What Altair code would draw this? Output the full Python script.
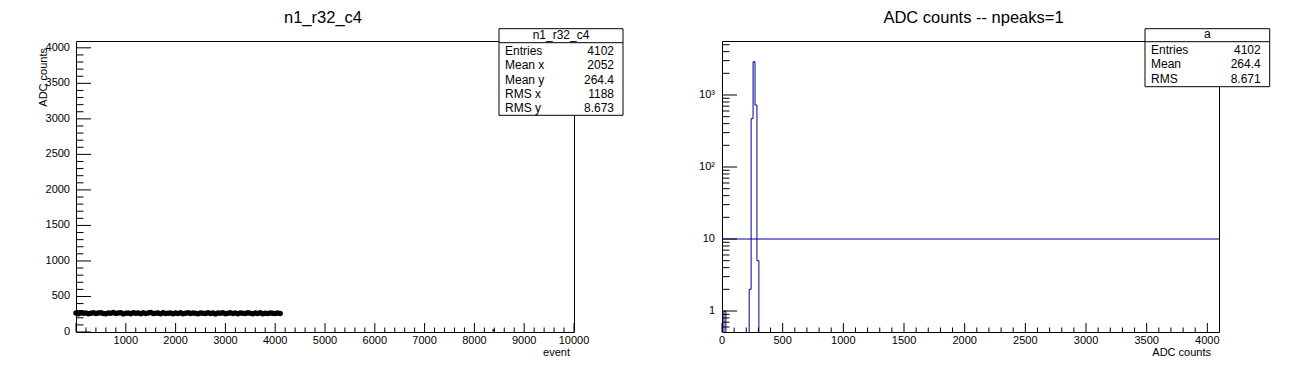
import altair as alt
import pandas as pd

FONT = "Liberation Sans"
BLUE = "#000099"

# ---------------- left panel: ADC counts vs event ----------------
event_ids = [0, 50, 100, 150, 200, 250, 300, 350, 400, 450,
             500, 550, 600, 650, 700, 750, 800, 850, 900, 950,
             1000, 1050, 1100, 1150, 1200, 1250, 1300, 1350, 1400, 1450,
             1500, 1550, 1600, 1650, 1700, 1750, 1800, 1850, 1900, 1950,
             2000, 2050, 2100, 2150, 2200, 2250, 2300, 2350, 2400, 2450,
             2500, 2550, 2600, 2650, 2700, 2750, 2800, 2850, 2900, 2950,
             3000, 3050, 3100, 3150, 3200, 3250, 3300, 3350, 3400, 3450,
             3500, 3550, 3600, 3650, 3700, 3750, 3800, 3850, 3900, 3950,
             4000, 4050, 4100]
adc_values = [266, 258, 271, 264, 269, 256, 265, 272, 259, 266,
              270, 261, 257, 268, 264, 273, 260, 266, 271, 255,
              265, 269, 258, 272, 263, 267, 256, 270, 262, 266,
              273, 259, 264, 268, 257, 271, 262, 265, 269, 258,
              266, 261, 270, 256, 264, 272, 260, 267, 263, 257,
              269, 264, 259, 271, 262, 266, 255, 268, 263, 270,
              258, 265, 272, 261, 266, 257, 269, 263, 260, 271,
              264, 258, 267, 262, 270, 256, 265, 261, 268, 263,
              259, 266, 262]
outlier_event = [8381]
outlier_adc = [22]

left_x_labels = [1000, 2000, 3000, 4000, 5000, 6000, 7000, 8000, 9000, 10000]
left_y_labels = [0, 500, 1000, 1500, 2000, 2500, 3000, 3500, 4000]
left_x_major = [0] + left_x_labels
left_x_minor = [v for v in range(200, 10000, 200) if v % 1000]
left_y_major = left_y_labels
left_y_minor = [v for v in range(100, 4000, 100) if v % 500]

left_title = "n1_r32_c4"
left_x_title = "event"
left_y_title = "ADC counts"
left_stat_names = ["Entries", "Mean x", "Mean y", "RMS x", "RMS y"]
left_stat_values = ["4102", "2052", "264.4", "1188", "8.673"]

# ---------------- right panel: histogram of ADC counts ----------------
BIN_WIDTH = 16
bin_low = [16, 224, 240, 256, 272, 288]
bin_counts = [1, 2, 470, 2900, 724, 5]
threshold = [10]

right_x_labels = [0, 500, 1000, 1500, 2000, 2500, 3000, 3500, 4000]
right_x_minor = [v for v in range(100, 4096, 100) if v % 500]
right_y_labels = [1, 10, 100, 1000]
right_y_label_text = ["1", "10", "10\u00b2", "10\u00b3"]
right_y_minor = [0.6, 0.7, 0.8, 0.9, 2, 3, 4, 5, 6, 7, 8, 9,
                 20, 30, 40, 50, 60, 70, 80, 90,
                 200, 300, 400, 500, 600, 700, 800, 900,
                 2000, 3000, 4000, 5000]

right_title = "ADC counts -- npeaks=1"
right_x_title = "ADC counts"
right_box_title = "a"
right_stat_names = ["Entries", "Mean", "RMS"]
right_stat_values = ["4102", "264.4", "8.671"]

# ---------------- geometry ----------------
W1, W2, H = 498, 497, 291
Y_MIN, Y_MAX = 0.511, 5623

xs_l = alt.Scale(domain=[0, 10000], nice=False, zero=False)
ys_l = alt.Scale(domain=[0, 4096], nice=False, zero=False)
xs_r = alt.Scale(domain=[0, 4096], nice=False, zero=False)
ys_r = alt.Scale(type="log", domain=[Y_MIN, Y_MAX], nice=False, clamp=True)

TXT = dict(font=FONT, color="black")


def ticks_layers(xscale, yscale, xmaj, xmin, ymaj, ymin, height):
    out = []
    for vals, ln in ((xmaj, 9), (xmin, 4.5)):
        out.append(alt.Chart(pd.DataFrame({"v": vals})).mark_rule(color="black", strokeWidth=1).encode(
            x=alt.X("v:Q", scale=xscale, axis=None), y=alt.value(height), y2=alt.value(height - ln)))
    for vals, ln in ((ymaj, 15), (ymin, 7.5)):
        out.append(alt.Chart(pd.DataFrame({"v": vals})).mark_rule(color="black", strokeWidth=1).encode(
            y=alt.Y("v:Q", scale=yscale, axis=None), x=alt.value(0), x2=alt.value(ln)))
    return out


def label_layers(xscale, yscale, xvals, xtext, yvals, ytext, height, ypad):
    xl = alt.Chart(pd.DataFrame({"v": xvals, "t": xtext})).mark_text(
        fontSize=11, align="center", baseline="top", **TXT).encode(
        x=alt.X("v:Q", scale=xscale, axis=None), y=alt.value(height + 3), text="t:N")
    yl = alt.Chart(pd.DataFrame({"v": yvals, "t": ytext})).mark_text(
        fontSize=11, align="right", baseline="middle", **TXT).encode(
        y=alt.Y("v:Q", scale=yscale, axis=None), x=alt.value(-ypad), text="t:N")
    return [xl, yl]


def text_layer(s, x, y, size, align="center", angle=0):
    params = dict(fontSize=size, align=align, baseline="alphabetic", **TXT)
    if angle:
        params["angle"] = angle
    return alt.Chart(pd.DataFrame({"t": [s]})).mark_text(**params).encode(
        x=alt.value(x), y=alt.value(y), text="t:N")


def stats_layers(header, names, values, bx0, bx1, by0, by1, hline):
    df = pd.DataFrame({"header": [header], "names": ["\n".join(names)], "values": ["\n".join(values)]})
    base = alt.Chart(df)
    box = base.mark_rect(fill="white", stroke="black", strokeWidth=1).encode(
        x=alt.value(bx0), x2=alt.value(bx1), y=alt.value(by0), y2=alt.value(by1))
    sep = base.mark_rule(color="black", strokeWidth=1).encode(
        x=alt.value(bx0), x2=alt.value(bx1), y=alt.value(hline))
    head = base.mark_text(fontSize=12, align="center", baseline="alphabetic", **TXT).encode(
        x=alt.value((bx0 + bx1) / 2), y=alt.value(hline - 4), text="header:N")
    lab = base.mark_text(fontSize=12, align="left", baseline="alphabetic", lineBreak="\n",
                         lineHeight=14.3, **TXT).encode(
        x=alt.value(bx0 + 6), y=alt.value(hline + 12.5), text="names:N")
    val = base.mark_text(fontSize=12, align="right", baseline="alphabetic", lineBreak="\n",
                         lineHeight=14.3, **TXT).encode(
        x=alt.value(bx1 - 9), y=alt.value(hline + 12.5), text="values:N")
    return [box, sep, head, lab, val]


# ---------------- left chart ----------------
scatter = alt.Chart(pd.DataFrame({"event": event_ids, "adc": adc_values})).mark_circle(
    size=30, color="black", opacity=1).encode(
    x=alt.X("event:Q", scale=xs_l, axis=None),
    y=alt.Y("adc:Q", scale=ys_l, axis=None),
)
outlier = alt.Chart(pd.DataFrame({"event": outlier_event, "adc": outlier_adc})).mark_circle(
    size=5, color="black", opacity=1).encode(
    x=alt.X("event:Q", scale=xs_l, axis=None), y=alt.Y("adc:Q", scale=ys_l, axis=None))

left = alt.layer(
    scatter, outlier,
    *ticks_layers(xs_l, ys_l, left_x_major, left_x_minor, left_y_major, left_y_minor, H),
    *label_layers(xs_l, ys_l, left_x_labels, [str(v) for v in left_x_labels],
                  left_y_labels, [str(v) for v in left_y_labels], H, 6),
    text_layer(left_x_title, W1 - 4, H + 24, 11, align="right"),
    text_layer(left_y_title, -29, 7, 11, align="right", angle=270),
    text_layer(left_title, W1 / 2 - 2, -18, 16.5),
    *stats_layers(left_title, left_stat_names, left_stat_values, 423, 547, -12.3, 74.3, 1.7),
).properties(width=W1, height=H)

# ---------------- right chart ----------------
rows = []
seg = 0
i = 0
while i < len(bin_low):
    j = i
    while j + 1 < len(bin_low) and bin_low[j + 1] == bin_low[j] + BIN_WIDTH:
        j += 1
    pts = [(bin_low[i], Y_MIN)] + [(bin_low[k], bin_counts[k]) for k in range(i, j + 1)] \
        + [(bin_low[j] + BIN_WIDTH, Y_MIN)]
    for o, (xv, yv) in enumerate(pts):
        rows.append({"adc": xv, "count": yv, "seg": seg, "o": o})
    seg += 1
    i = j + 1
hist_df = pd.DataFrame(rows)

hist = alt.Chart(hist_df).mark_line(interpolate="step-after", color=BLUE, strokeWidth=1).encode(
    x=alt.X("adc:Q", scale=xs_r, axis=None),
    y=alt.Y("count:Q", scale=ys_r, axis=None),
    detail="seg:N",
    order="o:Q",
)
thr = alt.Chart(pd.DataFrame({"count": threshold})).mark_rule(color=BLUE, strokeWidth=1).encode(
    y=alt.Y("count:Q", scale=ys_r, axis=None))

right = alt.layer(
    hist, thr,
    *ticks_layers(xs_r, ys_r, right_x_labels, right_x_minor, right_y_labels, right_y_minor, H),
    *label_layers(xs_r, ys_r, right_x_labels, [str(v) for v in right_x_labels],
                  right_y_labels, right_y_label_text, H, 7),
    text_layer(right_x_title, W2 - 8, H + 24, 11, align="right"),
    text_layer(right_title, W2 / 2 + 3, -18, 16.5),
    *stats_layers(right_box_title, right_stat_names, right_stat_values, 423, 547.7, -12.3, 45.7, 0.7),
).properties(width=W2, height=H)

chart = alt.hconcat(left, right, spacing=148, bounds="flush").properties(
    padding={"left": 29, "top": 1, "right": 0, "bottom": 0},
    background="white",
).configure_view(
    stroke="black", strokeWidth=1
)

chart.save("out.html", embed_options={"renderer": "svg", "actions": False})
